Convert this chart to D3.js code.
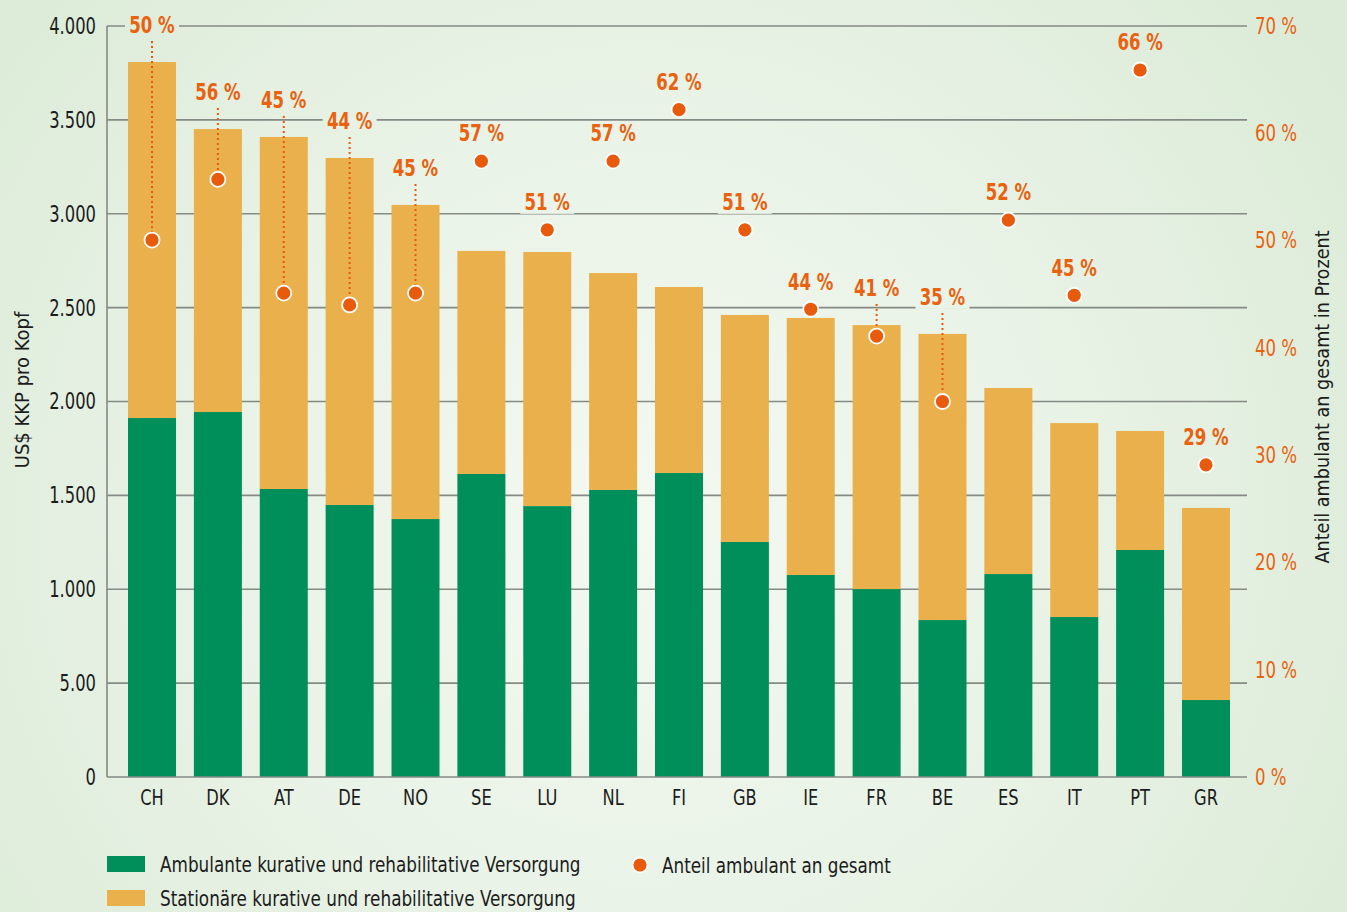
<!DOCTYPE html>
<html><head><meta charset="utf-8">
<script src="https://cdn.jsdelivr.net/npm/d3@7/dist/d3.min.js"></script>
<style>
body{margin:0;background:#e2efdf;}
svg{display:block;}
text{font-family:"DejaVu Sans Condensed","DejaVu Sans",sans-serif;font-stretch:condensed;}
</style>
</head><body>
<svg id="chart" width="1347" height="912"></svg>
<script>
// ---- data ----
const countries = ["CH","DK","AT","DE","NO","SE","LU","NL","FI","GB","IE","FR","BE","ES","IT","PT","GR"];
const ambulant   = [1912,1944,1534,1449,1374,1614,1443,1529,1619,1252,1076,1001,836,1081,852,1209,410];
const stationaer = [1896,1507,1875,1848,1673,1188,1353,1155,991,1209,1369,1406,1524,991,1033,634,1023];
const share      = [50.05,55.7,45.1,44.0,45.1,57.4,51.0,57.4,62.2,51.0,43.6,41.1,35.0,51.9,44.9,65.9,29.1];
const shareLabels = ["50 %","56 %","45 %","44 %","45 %","57 %","51 %","57 %","62 %","51 %","44 %","41 %","35 %","52 %","45 %","66 %","29 %"];
const leftTicks = [0,500,1000,1500,2000,2500,3000,3500,4000];
const leftTickLabels = ["0","5.00","1.000","1.500","2.000","2.500","3.000","3.500","4.000"];
const rightTicks = [0,10,20,30,40,50,60,70];
const rightTickLabels = ["0 %","10 %","20 %","30 %","40 %","50 %","60 %","70 %"];
const seriesNames = ["Ambulante kurative und rehabilitative Versorgung","Stationäre kurative und rehabilitative Versorgung"];
const shareName = "Anteil ambulant an gesamt";
const yTitleLeft = "US$ KKP pro Kopf";
const yTitleRight = "Anteil ambulant an gesamt in Prozent";

// ---- styles ----
const GREEN = "#008f5b", YELLOW = "#e9b04b", ORANGE = "#e85a0c", LABEL = "#e8620f", GRID = "#858a85", TXT = "#1c1c1c";
const X0 = 107, X1 = 1247, YT = 26, YB = 777;

// horizontally condense text to mimic a condensed typeface
function squeeze(sel, f){
  sel.each(function(){
    const w = this.getComputedTextLength();
    this.setAttribute("textLength", (w*f).toFixed(1));
    this.setAttribute("lengthAdjust","spacingAndGlyphs");
  });
}

const svg = d3.select("#chart");
const defs = svg.append("defs");
const grad = defs.append("radialGradient").attr("id","bg")
  .attr("gradientUnits","userSpaceOnUse").attr("cx",640).attr("cy",520).attr("r",820);
grad.append("stop").attr("offset","0").attr("stop-color","#f4f9f2");
grad.append("stop").attr("offset","0.55").attr("stop-color","#e8f2e5");
grad.append("stop").attr("offset","1").attr("stop-color","#dcebd8");
svg.append("rect").attr("width",1347).attr("height",912).attr("fill","url(#bg)");

const table = countries.map((c,i)=>({country:c, amb:ambulant[i], stat:stationaer[i], share:share[i], label:shareLabels[i]}));

const x = d3.scaleBand().domain(countries).range([X0,X1+4]).paddingInner(0.2713).paddingOuter(0.319);
const y = d3.scaleLinear().domain([0,4000]).range([YB,YT]);
const yR = d3.scaleLinear().domain([0,70]).range([YB,YT]);

// grid
svg.append("g").selectAll("line").data(leftTicks.slice(1)).join("line")
  .attr("x1",X0).attr("x2",X1).attr("y1",d=>y(d)).attr("y2",d=>y(d))
  .attr("stroke",GRID).attr("stroke-width",1.6);

// stacked bars
const stack = d3.stack().keys(["amb","stat"])(table);
const colors = [GREEN, YELLOW];
svg.append("g").selectAll("g").data(stack).join("g").attr("fill",(d,i)=>colors[i])
  .selectAll("rect").data(d=>d).join("rect")
  .attr("x",d=>x(d.data.country)).attr("width",x.bandwidth())
  .attr("y",d=>y(d[1])).attr("height",d=>y(d[0])-y(d[1]));

// axis lines
svg.append("line").attr("x1",X0).attr("x2",X0).attr("y1",YT).attr("y2",YB).attr("stroke",GRID).attr("stroke-width",1.6);
svg.append("line").attr("x1",X0).attr("x2",X1).attr("y1",YB).attr("y2",YB).attr("stroke",GRID).attr("stroke-width",1.6);

// axes
const gL = svg.append("g").attr("transform",`translate(${X0},0)`)
  .call(d3.axisLeft(y).tickValues(leftTicks).tickFormat((d,i)=>leftTickLabels[i]).tickSize(0).tickPadding(11));
gL.select(".domain").remove();
gL.selectAll("text").attr("font-size",23).attr("fill",TXT).style("font-family",null).call(squeeze,0.79);

const gR = svg.append("g").attr("transform",`translate(${X1},0)`)
  .call(d3.axisRight(yR).tickValues(rightTicks).tickFormat((d,i)=>rightTickLabels[i]).tickSize(0).tickPadding(8));
gR.select(".domain").remove();
gR.selectAll("text").attr("font-size",23).attr("fill",LABEL).style("font-family",null).call(squeeze,0.8);

const gB = svg.append("g").attr("transform",`translate(0,${YB})`)
  .call(d3.axisBottom(x).tickSize(0).tickPadding(12));
gB.select(".domain").remove();
gB.selectAll("text").attr("font-size",22).attr("fill",TXT).style("font-family",null).call(squeeze,0.82);

// axis titles
svg.append("text").attr("transform","translate(22,390) rotate(-90)").attr("text-anchor","middle").attr("dy","0.35em")
  .attr("font-size",20).attr("fill",TXT).text(yTitleLeft);
svg.append("text").attr("transform","translate(1322,397) rotate(-90)").attr("text-anchor","middle").attr("dy","0.35em")
  .attr("font-size",20).attr("fill",TXT).text(yTitleRight).call(squeeze,0.98);

// share dots, leaders, labels
const pts = table.map(d=>{
  const cx = x(d.country)+x.bandwidth()/2;
  const cy = yR(d.share);
  const top = y(d.amb+d.stat);
  const inside = cy > top;
  const ly = inside ? Math.min(top-37, cy-45) : cy-28;
  return {...d, cx, cy, top, inside, ly};
});
svg.append("g").selectAll("line").data(pts.filter(p=>p.inside)).join("line")
  .attr("x1",p=>p.cx).attr("x2",p=>p.cx).attr("y1",p=>p.ly+16).attr("y2",p=>p.cy-8)
  .attr("stroke",ORANGE).attr("stroke-width",2).attr("stroke-dasharray","2,3");
const lab = svg.append("g").selectAll("g").data(pts).join("g");
lab.append("rect").attr("x",p=>p.cx-27).attr("y",p=>p.ly-12).attr("width",54).attr("height",24).attr("fill","url(#bg)");
lab.append("text").attr("x",p=>p.cx).attr("y",p=>p.ly).attr("dy","0.36em").attr("text-anchor","middle")
  .attr("font-size",23).attr("font-weight","bold").attr("fill",LABEL).text(p=>p.label).call(squeeze,0.8);
svg.append("g").selectAll("circle").data(pts).join("circle")
  .attr("cx",p=>p.cx).attr("cy",p=>p.cy).attr("r",7.5)
  .attr("fill",ORANGE).attr("stroke","#fff").attr("stroke-width",1.8);

// legend
const lg = svg.append("g");
[0,1].forEach(i=>{
  lg.append("rect").attr("x",107).attr("y",856+i*34).attr("width",38).attr("height",16).attr("fill",colors[i]);
  lg.append("text").attr("x",160).attr("y",864+i*34).attr("dy","0.35em").attr("font-size",22).attr("fill",TXT).text(seriesNames[i]).call(squeeze,0.85);
});
lg.append("circle").attr("cx",640).attr("cy",865).attr("r",7.5).attr("fill",ORANGE).attr("stroke","#fff").attr("stroke-width",1.8);
lg.append("text").attr("x",662).attr("y",865).attr("dy","0.35em").attr("font-size",22).attr("fill",TXT).text(shareName).call(squeeze,0.85);
</script>
</body></html>
